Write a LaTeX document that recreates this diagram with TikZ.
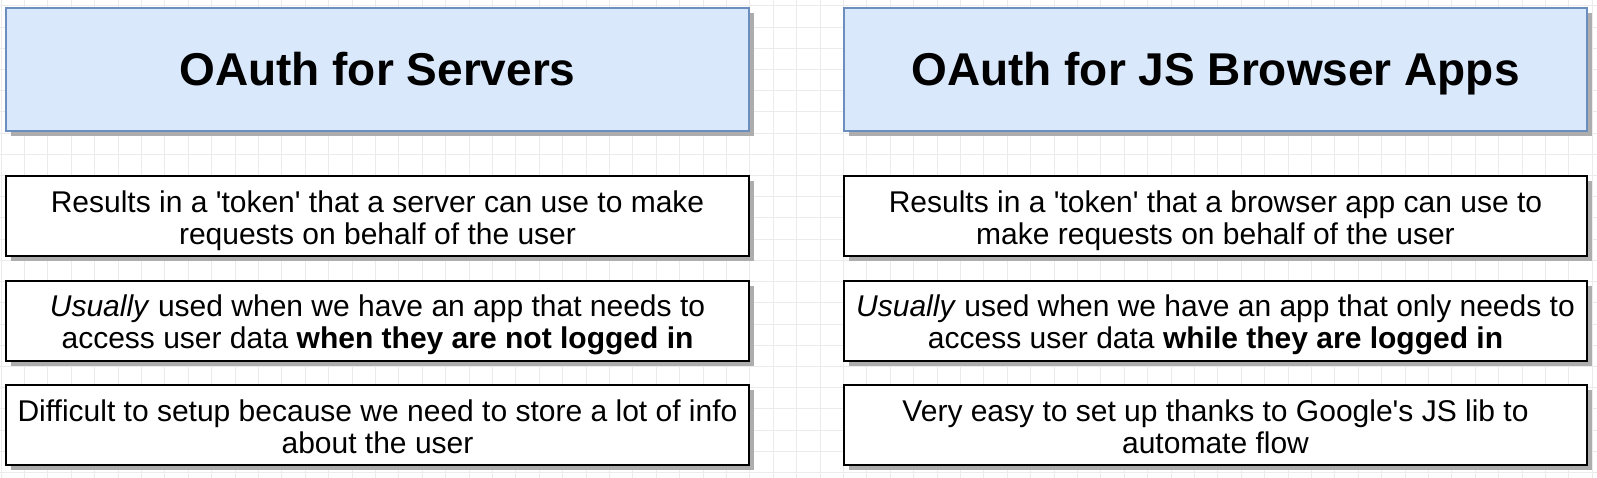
\documentclass[tikz,border=0pt]{standalone}
\usepackage{fontspec}
\newfontfamily\diagfont{Liberation Sans}
\usetikzlibrary{positioning}
\usetikzlibrary{shadows}
\definecolor{titlefill}{HTML}{DAE8FC}
\definecolor{titleline}{HTML}{6C8EBF}
\definecolor{gridgray}{HTML}{EBEBEB}

\begin{document}
\begin{tikzpicture}[x=1pt, y=-1pt,
		gridline/.style={gridgray, line width=1pt},
		titlebox/.style={draw=titleline, fill=titlefill, line width=2pt, minimum width=743pt, minimum height=123pt,
			text height=33pt, text depth=0pt, font=\diagfont\bfseries\fontsize{46}{50}\selectfont,
			drop shadow={shadow xshift=5pt, shadow yshift=-5pt, fill=black!32, opacity=1}},
		infobox/.style={draw=black, fill=white, line width=2pt, minimum width=743pt, minimum height=80pt,
			align=center, inner sep=0pt, text height=56.1pt, text depth=0pt,
			font=\diagfont\fontsize{30}{31.6}\selectfont,
			drop shadow={shadow xshift=5pt, shadow yshift=-5pt, fill=black!32, opacity=1}}]
		\useasboundingbox (0,0) rectangle (1597,478);
		\fill[white] (0,0) rectangle (1597,478);
		\begin{scope}[shift={(1,6)}]
			\draw[gridline, xstep=23.4pt, ystep=21.2pt] (-1,-6) grid (1596,472);
		\end{scope}
		\node[titlebox] (srvtitle) at (377.5,69.5) {OAuth for Servers};
		\node[titlebox, right=93pt of srvtitle] (jstitle) {OAuth for JS Browser Apps};
		\node[infobox, below=43pt of srvtitle] (srvtoken) {Results in a \textquotesingle token\textquotesingle{} that a server can use to make\\requests on behalf of the user};
		\node[infobox, below=22.5pt of srvtoken] (srvusage) {\textit{Usually} used when we have an app that needs to\\access user data \textbf{when they are not logged in}};
		\node[infobox, below=22.5pt of srvusage] (srvsetup) {Difficult to setup because we need to store a lot of info\\about the user};
		\node[infobox, below=43pt of jstitle] (jstoken) {Results in a \textquotesingle token\textquotesingle{} that a browser app can use to\\make requests on behalf of the user};
		\node[infobox, below=22.5pt of jstoken] (jsusage) {\textit{Usually} used when we have an app that only needs to\\access user data \textbf{while they are logged in}};
		\node[infobox, below=22.5pt of jsusage] (jssetup) {Very easy to set up thanks to Google\textquotesingle s JS lib to\\automate flow};
	\end{tikzpicture}
\end{document}
